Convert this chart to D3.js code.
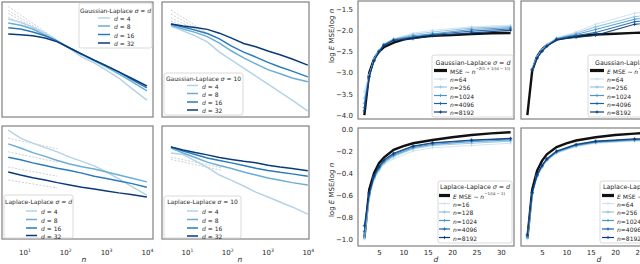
<!DOCTYPE html>
<meta charset="utf-8">
<style>
    body { margin: 0; background: #fff; }
    text { font-family: "DejaVu Sans", sans-serif; fill: #262626; }
    .frame { fill: none; stroke: #808080; stroke-width: 1.2px; }
    .ref { fill: none; stroke: #c4c4c4; stroke-width: 0.8px; stroke-dasharray: 2,1.5; }
    .lbox { fill: #fff; fill-opacity: 0.85; stroke: #d0d0d0; stroke-width: 0.8px; }
    .domain { display: none; }
</style>
<svg width="640" height="264"></svg>
<script src="https://d3js.org/d3.v7.min.js"></script>
<script>

    // ---- left column: error vs n (log-log, arbitrary log units) ----
    var nGrid = [4, 8, 16, 32, 64, 128, 256, 512, 1024, 2048, 4096, 10000];
    var dList = [4, 8, 16, 32];
    var nTicks = [10, 100, 1000, 10000];

    var gaussSigD = [
        [-0.45, -0.53, -0.66, -0.82, -1.03, -1.22, -1.45, -1.60, -1.80, -2.00, -2.26, -2.58],
        [-0.55, -0.61, -0.71, -0.87, -1.03, -1.21, -1.39, -1.55, -1.71, -1.89, -2.08, -2.34],
        [-0.68, -0.71, -0.79, -0.89, -1.03, -1.21, -1.37, -1.53, -1.68, -1.84, -2.03, -2.26],
        [-0.84, -0.86, -0.89, -0.95, -1.05, -1.21, -1.37, -1.53, -1.68, -1.84, -2.00, -2.21]
    ];
    var gaussSig10 = [
        [-0.63, -0.76, -0.89, -1.05, -1.32, -1.53, -1.74, -1.95, -2.16, -2.37, -2.58, -2.87],
        [-0.61, -0.71, -0.80, -0.91, -1.08, -1.29, -1.47, -1.63, -1.78, -1.89, -2.00, -2.10],
        [-0.58, -0.66, -0.74, -0.83, -0.97, -1.16, -1.32, -1.45, -1.59, -1.71, -1.82, -1.97],
        [-0.58, -0.63, -0.67, -0.72, -0.82, -0.95, -1.09, -1.18, -1.29, -1.39, -1.50, -1.66]
    ];
    var lapSigD = [
        [-0.11, -0.32, -0.45, -0.57, -0.68, -0.82, -0.93, -1.05, -1.21, -1.39, -1.58, -1.82],
        [-0.47, -0.58, -0.70, -0.80, -0.91, -1.00, -1.07, -1.13, -1.21, -1.29, -1.37, -1.47],
        [-0.82, -0.89, -0.97, -1.04, -1.11, -1.17, -1.24, -1.32, -1.38, -1.45, -1.51, -1.61],
        [-1.21, -1.29, -1.36, -1.42, -1.49, -1.55, -1.61, -1.66, -1.71, -1.76, -1.80, -1.87]
    ];
    var lapSig10 = [
        [-0.71, -0.75, -0.92, -1.09, -1.29, -1.43, -1.58, -1.74, -1.87, -2.00, -2.13, -2.32],
        [-0.58, -0.71, -0.83, -0.95, -1.04, -1.12, -1.21, -1.29, -1.37, -1.43, -1.49, -1.55],
        [-0.55, -0.66, -0.75, -0.84, -0.91, -0.97, -1.04, -1.11, -1.17, -1.22, -1.26, -1.32],
        [-0.55, -0.63, -0.70, -0.76, -0.83, -0.88, -0.93, -0.97, -1.03, -1.08, -1.12, -1.18]
    ];
    // faint dashed reference slopes: [[n0, v0], [n1, v1]]
    var gaussSigDRefs = [[[4, -0.12], [64, -1.00]], [[4, -0.22], [64, -1.01]], [[4, -0.30], [64, -1.02]], [[4, -0.40], [64, -1.03]]];
    var gaussSig10Refs = [[[4, -0.21], [30, -0.80]], [[4, -0.32], [30, -0.82]], [[4, -0.42], [30, -0.84]], [[4, -0.50], [30, -0.86]]];
    var lapSigDRefs = [[[4, -0.32], [64, -0.60]], [[4, -0.68], [64, -0.95]], [[4, -1.08], [64, -1.32]], [[4, -1.42], [64, -1.63]]];
    var lapSig10Refs = [[[4, -0.82], [74, -1.10]], [[4, -0.88], [74, -1.17]]];

    // ---- right column: log E MSE / log n vs d ----
    var dGrid = [2, 3, 4, 5, 6, 8, 12, 16, 24, 32];
    var dGridTheory = [2, 3, 4, 5, 6, 8, 10, 12, 16, 20, 24, 28, 32];
    var nListA = [64, 256, 1024, 4096, 8192];
    var nListB = [16, 128, 1024, 4096, 8192];
    var dTicks = [5, 10, 15, 20, 25, 30];
    var gaussTicks = [-1.5, -2.0, -2.5, -3.0, -3.5, -4.0];
    var lapTicks = [0.0, -0.2, -0.4, -0.6, -0.8, -1.0];

    var gaussTheorySigD = [-4.0, -3.0, -2.67, -2.5, -2.4, -2.29, -2.22, -2.18, -2.13, -2.11, -2.09, -2.07, -2.065];
    var gaussEmpSigD = [
        [-3.45, -3.05, -2.68, -2.47, -2.32, -2.20, -2.07, -2.00, -1.92, -1.88],
        [-3.60, -3.07, -2.69, -2.48, -2.33, -2.21, -2.10, -2.04, -1.95, -1.91],
        [-3.72, -3.08, -2.70, -2.49, -2.34, -2.22, -2.13, -2.08, -1.98, -1.94],
        [-3.82, -3.09, -2.71, -2.50, -2.35, -2.23, -2.16, -2.10, -2.02, -1.97],
        [-3.90, -3.10, -2.72, -2.51, -2.36, -2.24, -2.20, -2.13, -2.06, -2.00]
    ];
    var gaussTheorySig10 = [-4.0, -2.95, -2.62, -2.45, -2.35, -2.22, -2.17, -2.14, -2.10, -2.08, -2.06, -2.05, -2.04];
    var gaussEmpSig10 = [
        [null, -2.90, -2.62, -2.46, -2.34, -2.18, -2.04, -1.86, -1.60, -1.45],
        [null, -2.91, -2.63, -2.47, -2.35, -2.19, -2.07, -1.92, -1.68, -1.55],
        [null, -2.92, -2.64, -2.48, -2.36, -2.20, -2.10, -1.98, -1.74, -1.62],
        [null, -2.93, -2.65, -2.49, -2.37, -2.21, -2.13, -2.05, -1.80, -1.68],
        [null, -2.94, -2.66, -2.50, -2.38, -2.22, -2.17, -2.12, -1.86, -1.75]
    ];
    var lapTheorySigD = [-1.0, -0.55, -0.40, -0.31, -0.26, -0.19, -0.155, -0.13, -0.10, -0.075, -0.055, -0.04, -0.03];
    var lapEmpSigD = [
        [-1.00, -0.62, -0.46, -0.38, -0.32, -0.27, -0.20, -0.17, -0.15, -0.13],
        [-0.99, -0.61, -0.45, -0.37, -0.31, -0.25, -0.18, -0.15, -0.13, -0.11],
        [-0.97, -0.60, -0.44, -0.36, -0.30, -0.24, -0.17, -0.14, -0.115, -0.10],
        [-0.93, -0.59, -0.43, -0.35, -0.29, -0.23, -0.16, -0.13, -0.105, -0.09],
        [-0.88, -0.58, -0.42, -0.34, -0.28, -0.22, -0.155, -0.125, -0.10, -0.085]
    ];
    var lapTheorySig10 = [-1.0, -0.55, -0.38, -0.29, -0.23, -0.165, -0.13, -0.105, -0.075, -0.055, -0.042, -0.032, -0.025];
    var lapEmpSig10 = [
        [-1.00, -0.60, -0.44, -0.35, -0.29, -0.22, -0.16, -0.13, -0.11, -0.10],
        [-0.99, -0.59, -0.43, -0.345, -0.285, -0.215, -0.155, -0.125, -0.105, -0.095],
        [-0.98, -0.585, -0.425, -0.34, -0.28, -0.21, -0.15, -0.12, -0.10, -0.09],
        [-0.97, -0.58, -0.42, -0.335, -0.275, -0.205, -0.145, -0.115, -0.095, -0.085],
        [-0.96, -0.575, -0.415, -0.33, -0.27, -0.20, -0.14, -0.11, -0.09, -0.08]
    ];

    var dColors = ["#b3d3e8", "#6aaed6", "#2b7bba", "#0b3a78"];
    var nColors = ["#cfe1f2", "#93c4de", "#4a98c9", "#1764ab", "#0a3a7a"];

    var svg = d3.select("svg");
    var defs = svg.append("defs");
    var clipId = 0;

    // text made of parts: [string, "i" italic | "s" superscript | ""]
    function rich(t, parts, size) {
        parts.forEach(function(p) {
            var s = t.append("tspan").text(p[0]);
            if (p[1] === "i") s.style("font-style", "italic");
            if (p[1] === "s") s.attr("font-size", size * 0.65).attr("dy", -size * 0.4);
        });
        return t;
    }

    function clip(b) {
        var id = "clip" + (clipId++);
        defs.append("clipPath").attr("id", id).append("rect")
            .attr("x", b.x0).attr("y", b.y0).attr("width", b.x1 - b.x0).attr("height", b.y1 - b.y0);
        return svg.append("g").attr("clip-path", "url(#" + id + ")");
    }

    function frame(b) {
        svg.append("rect").attr("class", "frame")
            .attr("x", b.x0).attr("y", b.y0).attr("width", b.x1 - b.x0).attr("height", b.y1 - b.y0);
    }

    function legendBox(lg) {
        svg.append("rect").attr("class", "lbox").attr("rx", 2)
            .attr("x", lg.x0).attr("y", lg.y0).attr("width", lg.x1 - lg.x0).attr("height", lg.y1 - lg.y0);
    }

    function leftPanel(b, series, refs, lg, showX) {
        var x = d3.scaleLog().domain([Math.pow(10, b.lo), Math.pow(10, b.hi)]).range([b.x0, b.x1]);
        var y = d3.scaleLinear().domain([0, -3]).range([b.y0, b.y0 + 114]);
        var g = clip(b);
        var line = d3.line().x(function(d) { return x(d[0]); }).y(function(d) { return y(d[1]); });

        refs.forEach(function(r) {
            g.append("path").attr("class", "ref").attr("d", line(r));
        });
        series.forEach(function(vals, i) {
            g.append("path")
                .datum(nGrid.map(function(n, j) { return [n, vals[j]]; }))
                .attr("fill", "none").attr("stroke", dColors[i]).attr("stroke-width", 1.5)
                .attr("d", line);
        });
        frame(b);

        if (showX) {
            var ax = svg.append("g").attr("transform", "translate(0," + b.y1 + ")")
                .call(d3.axisBottom(x).tickValues(nTicks).tickSize(0).tickFormat(""));
            ax.selectAll(".tick").each(function(d) {
                var t = d3.select(this).append("text").attr("y", 16)
                    .attr("text-anchor", "middle").attr("font-size", 7);
                rich(t, [["10", ""], [String(Math.round(Math.log10(d))), "s"]], 7);
            });
            svg.append("text").attr("x", b.xl).attr("y", 262).attr("text-anchor", "middle")
                .attr("font-size", 7.5).style("font-style", "italic").text("n");
        }

        legendBox(lg);
        rich(svg.append("text").attr("x", lg.tx).attr("y", lg.ty).attr("text-anchor", "middle")
            .attr("dominant-baseline", "central").attr("font-size", 6),
            [[lg.title, ""], ["σ", "i"], [" = ", ""], [lg.sig, lg.sig === "d" ? "i" : ""]], 6);
        dList.forEach(function(dv, i) {
            var yy = lg.rows[i];
            svg.append("line").attr("x1", lg.l0).attr("x2", lg.l1).attr("y1", yy).attr("y2", yy)
                .attr("stroke", dColors[i]).attr("stroke-width", 1.5);
            rich(svg.append("text").attr("x", lg.l1 + 4).attr("y", yy).attr("dominant-baseline", "central")
                .attr("font-size", 6), [["d", "i"], [" = " + dv, ""]], 6);
        });
    }

    function plus(g, px, py, color) {
        g.append("path").attr("d", "M" + (px - 1.6) + "," + py + "H" + (px + 1.6) + "M" + px + "," + (py - 1.6) + "V" + (py + 1.6))
            .attr("stroke", color).attr("stroke-width", 0.8).attr("fill", "none");
    }

    function rightPanel(b, dom, theory, emp, nList, lg, showX, yTicks) {
        var x = d3.scaleLinear().domain([0.7, 32.7]).range([b.x0, b.x1]);
        var y = d3.scaleLinear().domain(dom).range([b.y1, b.y0]);
        var g = clip(b);
        var line = d3.line()
            .defined(function(d) { return d[1] !== null; })
            .x(function(d) { return x(d[0]); }).y(function(d) { return y(d[1]); });

        g.append("path")
            .datum(dGridTheory.map(function(dv, j) { return [dv, theory[j]]; }))
            .attr("fill", "none").attr("stroke", "#111").attr("stroke-width", 2.4)
            .attr("d", line);
        emp.forEach(function(vals, i) {
            var pts = dGrid.map(function(dv, j) { return [dv, vals[j]]; });
            g.append("path").datum(pts)
                .attr("fill", "none").attr("stroke", nColors[i]).attr("stroke-width", 1.1)
                .attr("stroke-opacity", 0.9).attr("d", line);
            pts.forEach(function(p) {
                if (p[1] !== null) plus(g, x(p[0]), y(p[1]), nColors[i]);
            });
        });
        frame(b);

        if (yTicks) {
            svg.append("g").attr("transform", "translate(" + b.x0 + ",0)")
                .call(d3.axisLeft(y).tickValues(yTicks).tickSize(0).tickPadding(5).tickFormat(d3.format(".1f")))
                .selectAll("text").attr("font-size", 7).attr("fill", "#262626");
            rich(svg.append("text").attr("transform", "translate(334," + b.yl + ") rotate(-90)")
                .attr("text-anchor", "middle").attr("font-size", 7),
                [["log ", ""], ["E", "i"], [" MSE/log ", ""], ["n", "i"]], 7);
        }
        if (showX) {
            svg.append("g").attr("transform", "translate(0," + b.y1 + ")")
                .call(d3.axisBottom(x).tickValues(dTicks).tickSize(0).tickPadding(4))
                .selectAll("text").attr("font-size", 7).attr("fill", "#262626");
            svg.append("text").attr("x", (b.x0 + b.x1) / 2).attr("y", 262).attr("text-anchor", "middle")
                .attr("font-size", 7.5).style("font-style", "italic").text("d");
        }

        legendBox(lg);
        var tt = svg.append("text").attr("x", lg.tx).attr("y", lg.ty)
            .attr("text-anchor", lg.anchor).attr("dominant-baseline", "central").attr("font-size", 6.3);
        rich(tt, [[lg.title, ""], ["σ", "i"], [" = ", ""], [lg.sig, lg.sig === "d" ? "i" : ""]], 6.3);

        var y0 = lg.rows[0];
        svg.append("line").attr("x1", lg.l0).attr("x2", lg.l1).attr("y1", y0).attr("y2", y0)
            .attr("stroke", "#111").attr("stroke-width", 3.2);
        rich(svg.append("text").attr("x", lg.l1 + 3).attr("y", y0).attr("dominant-baseline", "central")
            .attr("font-size", 6), lg.theory, 6);
        nList.forEach(function(nv, i) {
            var yy = lg.rows[i + 1];
            svg.append("line").attr("x1", lg.l0).attr("x2", lg.l1).attr("y1", yy).attr("y2", yy)
                .attr("stroke", nColors[i]).attr("stroke-width", 1.2);
            plus(svg, (lg.l0 + lg.l1) / 2, yy, nColors[i]);
            rich(svg.append("text").attr("x", lg.l1 + 3).attr("y", yy).attr("dominant-baseline", "central")
                .attr("font-size", 6), [["n", "i"], ["=" + nv, ""]], 6);
        });
    }

    var gaussExp = [["MSE ∼ ", ""], ["n", "i"], ["−2(1 + 1/(d − 1))", "s"]];
    var gaussExpE = [["E", "i"], [" MSE ∼ ", ""], ["n", "i"], ["−2(1 + 1/(d − 1))", "s"]];
    var lapExp = [["E", "i"], [" MSE ∼ ", ""], ["n", "i"], ["−1/(d − 1)", "s"]];

    leftPanel({x0: 2, x1: 153, y0: 2, y1: 117, lo: 0.45, hi: 4.15}, gaussSigD, gaussSigDRefs,
        {x0: 79, x1: 152, y0: 3, y1: 48, tx: 115.5, ty: 10, title: "Gaussian-Laplace ", sig: "d",
         rows: [18, 26, 34.5, 43], l0: 98, l1: 110}, false);
    leftPanel({x0: 162, x1: 309, y0: 2, y1: 117, lo: 0.38, hi: 4.03}, gaussSig10, gaussSig10Refs,
        {x0: 164, x1: 243, y0: 73, y1: 115, tx: 203.5, ty: 77.5, title: "Gaussian-Laplace ", sig: "10",
         rows: [85.5, 93.5, 102, 110], l0: 187, l1: 198}, false);
    leftPanel({x0: 2, x1: 153, y0: 126, y1: 239, lo: 0.45, hi: 4.15, xl: 84}, lapSigD, lapSigDRefs,
        {x0: 4, x1: 73, y0: 195, y1: 238, tx: 38.5, ty: 201, title: "Laplace-Laplace ", sig: "d",
         rows: [211, 219.5, 228, 235.5], l0: 26, l1: 37}, true);
    leftPanel({x0: 162, x1: 309, y0: 126, y1: 239, lo: 0.38, hi: 4.03, xl: 240}, lapSig10, lapSig10Refs,
        {x0: 164, x1: 241, y0: 196, y1: 238, tx: 202.5, ty: 201, title: "Laplace-Laplace ", sig: "10",
         rows: [211, 219.5, 228, 236], l0: 187, l1: 198}, true);

    rightPanel({x0: 358, x1: 514, y0: 1, y1: 119, yl: 36}, [-4.09, -1.31], gaussTheorySigD, gaussEmpSigD, nListA,
        {x0: 432, x1: 513, y0: 55, y1: 117, tx: 473, ty: 61.5, anchor: "middle", title: "Gaussian-Laplace ", sig: "d",
         rows: [70.5, 79, 87, 95.5, 103.5, 112], l0: 434, l1: 447, theory: gaussExp}, false, gaussTicks);
    rightPanel({x0: 521, x1: 677, y0: 1, y1: 119}, [-4.09, -1.31], gaussTheorySig10, gaussEmpSig10, nListA,
        {x0: 588, x1: 672, y0: 55, y1: 117, tx: 595, ty: 61.5, anchor: "start", title: "Gaussian-Laplace ", sig: "10",
         rows: [70.5, 79, 87, 95.5, 103.5, 112], l0: 590, l1: 604, theory: gaussExpE}, false, null);
    rightPanel({x0: 358, x1: 514, y0: 128, y1: 246, yl: 190}, [-1.064, 0.009], lapTheorySigD, lapEmpSigD, nListB,
        {x0: 438, x1: 512, y0: 181, y1: 243, tx: 475, ty: 186, anchor: "middle", title: "Laplace-Laplace ", sig: "d",
         rows: [195.5, 203.5, 212, 220.5, 229, 237.5], l0: 439, l1: 450, theory: lapExp}, true, lapTicks);
    rightPanel({x0: 521, x1: 677, y0: 128, y1: 246}, [-1.064, 0.009], lapTheorySig10, lapEmpSig10, nListA,
        {x0: 600, x1: 676, y0: 181, y1: 243, tx: 603, ty: 186, anchor: "start", title: "Laplace-Laplace ", sig: "10",
         rows: [195.5, 203.5, 212, 220.5, 229, 237.5], l0: 602, l1: 614, theory: lapExp}, true, null);

</script>
